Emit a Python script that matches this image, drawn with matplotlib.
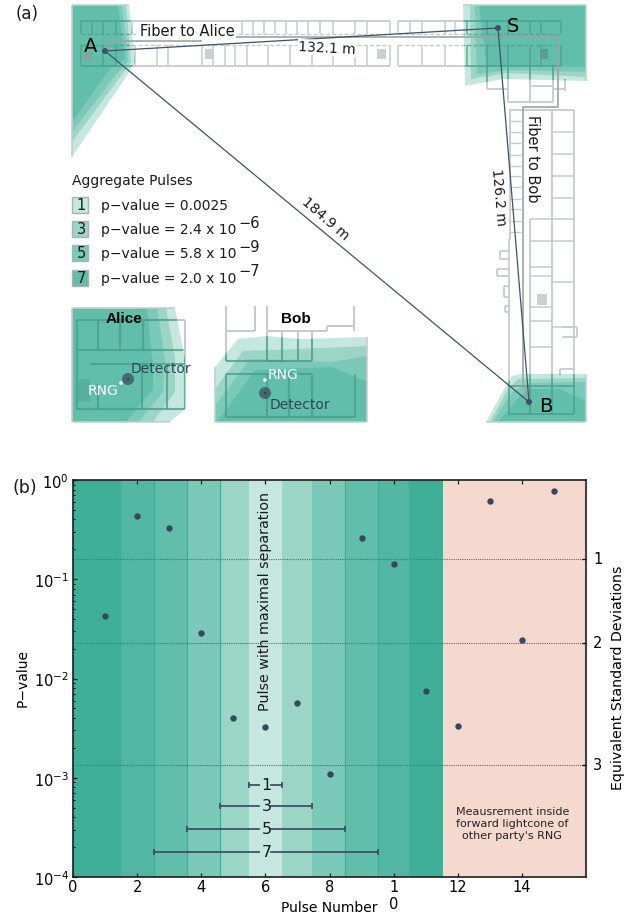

import numpy as np
import matplotlib
matplotlib.use("Agg")
import matplotlib.pyplot as plt
from matplotlib.patches import Polygon, Rectangle, Circle
from matplotlib.transforms import ScaledTranslation

W, H = 642, 920
plt.rcParams['font.family'] = ['DejaVu Sans']
plt.rcParams['mathtext.fontset'] = 'dejavusans'

# ---- data for panel (b)
pulse = [1, 2, 3, 4, 5, 6, 7, 8, 9, 10, 11, 12, 13, 14, 15]
pvals = [0.0423, 0.436, 0.325, 0.029, 0.0040, 0.00325, 0.00564, 0.0011,
         0.2575, 0.142, 0.00745, 0.0033, 0.614, 0.0246, 0.78]
band_edges = [0, 1.46, 2.52, 3.55, 4.6, 5.5, 6.53, 7.44, 8.48, 9.51, 10.47, 11.53]
band_colors = ['#3FAF97', '#52B6A2', '#61BEAB', '#7BC9B8', '#9AD5C6', '#C5E7E0',
               '#9AD5C6', '#7BC9B8', '#61BEAB', '#52B6A2', '#3FAF97']
sigma_p = [0.1587, 0.02275, 0.00135]
sigma_labels = ['1', '2', '3']
agg_labels = ['1', '3', '5', '7']
agg_lo = [5.5, 4.6, 3.55, 2.52]
agg_hi = [6.53, 7.44, 8.48, 9.51]
agg_y = [8.5e-4, 5.2e-4, 3.05e-4, 1.79e-4]

# ---- data for panel (a), in pixels of the picture
A_pt = (105, 52); S_pt = (498, 29); B_pt = (529, 403)
legend_labels = ['1', '3', '5', '7']
legend_text = ['p\u2212value = 0.0025', 'p\u2212value = 2.4 x 10', 'p\u2212value = 5.8 x 10', 'p\u2212value = 2.0 x 10']
legend_sup = ['', '\u22126', '\u22129', '\u22127']
legend_colors = ['#C5E7E0', '#9AD5C6', '#7BC9B8', '#61BEAB']

fig = plt.figure(figsize=(W/100, H/100), dpi=100)
bg = fig.add_axes([0, 0, 1, 1])
bg.set_xlim(0, W); bg.set_ylim(H, 0); bg.axis('off')

GREY = '#C8CBCD'
plan = []
def wall(x0, y0, x1, y1, lw=1.3, ls='-'):
    plan.append((x0, y0, x1, y1, lw, ls))
def seg(x0, y0, x1, y1, lw=1.2, c=GREY, z=3, alpha=1):
    bg.plot([x0, x1], [y0, y1], color=c, lw=lw, zorder=z, alpha=alpha, solid_capstyle='butt')

# lightcone shapes
tc = ['#C5E7E0', '#9AD5C6', '#7BC9B8', '#61BEAB']
alice = [[(72, 6), (129, 6), (135, 63), (128, 75), (72, 158)],
         [(72, 6), (126, 6), (131, 63), (120, 78), (72, 143)],
         [(72, 6), (122, 6), (128, 62), (115, 77), (72, 133)],
         [(72, 6), (118, 6), (125, 60), (110, 70), (72, 123)]]
source = [[(463, 6), (586, 6), (586, 82), (503, 80), (465, 87)],
          [(470, 6), (586, 6), (586, 78), (507, 74), (471, 80)],
          [(475, 6), (586, 6), (586, 73), (510, 71), (477, 75)],
          [(479, 6), (586, 6), (586, 68), (520, 67), (487, 68)]]
bob = [[(486, 423), (503, 392), (512, 377), (520, 375), (586, 375), (586, 423)],
       [(490, 423), (508, 390), (518, 380), (586, 379), (586, 423)],
       [(493, 423), (512, 393), (530, 384), (586, 383), (586, 423)],
       [(498, 423), (520, 397), (530, 390), (560, 390), (586, 402), (586, 423)]]
alice_in = [[(72, 309), (175, 309), (185, 360), (185, 410), (170, 423), (72, 423)],
            [(72, 309), (166, 309), (175, 360), (175, 393), (153, 423), (72, 423)],
            [(72, 309), (157, 309), (165, 360), (163, 393), (138, 423), (72, 423)],
            [(72, 309), (147, 309), (153, 367), (153, 390), (126, 423), (72, 423)]]
bob_in = [[(215, 423), (215, 368), (238, 340), (267, 337), (300, 340), (367, 338), (367, 423)],
          [(215, 423), (215, 390), (243, 352), (300, 350), (367, 347), (367, 423)],
          [(215, 423), (215, 407), (250, 360), (333, 363), (367, 357), (367, 423)],
          [(217, 423), (255, 371), (332, 368), (367, 383), (367, 423)]]
all_shapes = (alice, source, bob, alice_in, bob_in)
for shapes in all_shapes:
    for col, s in zip(tc, shapes):
        bg.add_patch(Polygon(s, closed=True, fc=col, ec='none', zorder=1))
for (x0, y0, x1, y1) in [(72, 6, 129, 6), (463, 6, 586, 6), (586, 6, 586, 82), (72, 6, 72, 158),
                         (486, 423, 586, 423), (586, 375, 586, 423),
                         (72, 309, 175, 309), (72, 309, 72, 423), (72, 423, 170, 423),
                         (215, 423, 367, 423), (215, 368, 215, 423), (367, 338, 367, 423)]:
    seg(x0, y0, x1, y1, lw=1.2, c='#C3CFCC', z=2)

# floor plan: main corridor
for h in [(81, 22, 390, 22), (398, 22, 561, 22), (81, 67, 390, 67), (398, 67, 561, 67)]:
    wall(*h)
for h in [(113, 35, 390, 35), (398, 35, 561, 35), (113, 46, 390, 46), (398, 46, 561, 46), (81, 35, 113, 35), (81, 46, 113, 46)]:
    wall(*h, lw=1.0, ls=(0, (3, 1.5)))
top_x = [81, 92, 103, 116, 132, 143, 154, 165, 176, 187, 198, 209, 220, 231, 242, 253, 264, 275, 286,
         297, 308, 320, 333, 355, 367, 390, 398, 410, 422, 445, 455, 467, 487, 508, 530, 541, 561]
low_x = [81, 103, 116, 135, 157, 168, 202, 213, 225, 235, 247, 268, 290, 312, 333, 355, 367, 390,
         398, 422, 445, 467, 487, 508, 530, 541, 561]
for x in top_x:
    wall(x, 22, x, 35, lw=1.1)
for x in low_x:
    wall(x, 46, x, 67, lw=1.1)
for sq, col in [((205, 50), '#CDD0D2'), ((377, 50), '#CDD0D2'), ((83, 53), '#7FA99F')]:
    bg.add_patch(Rectangle(sq, 9, 10, fc=col, ec='none', zorder=3))
bg.add_patch(Rectangle((540, 50), 8, 10, fc='#5E9C8E', ec='none', zorder=3))

# fibre run
fib = '#9DA3A5'
bg.plot([105, 107, 112, 201, 201, 558, 558, 523, 523, 528],
        [52, 45, 42, 42, 38, 38, 108, 108, 383, 400], color=fib, lw=1.2, zorder=3)

# building south of the source
for h in [(487, 90, 508, 90), (508, 103, 553, 103), (530, 87, 553, 87), (553, 90, 565, 90)]:
    wall(*h)
for v in [(487, 67, 487, 90), (508, 67, 508, 103), (530, 67, 530, 102), (553, 67, 553, 103), (565, 80, 565, 92)]:
    wall(*v)
# east wing
for v in [(510, 111, 510, 240), (509, 240, 509, 415), (552, 111, 552, 415), (574, 111, 574, 415), (530, 220, 530, 415)]:
    wall(*v)
wall(509, 111, 574, 111)
for y in [133, 155, 177, 199, 283, 328]:
    wall(552, y, 574, y, lw=1.1)
for y in [122, 133, 144, 156, 167, 177, 188, 200, 210, 222, 233]:
    wall(510, y, 521, y, lw=1.0)
for y in [220, 242, 268, 277, 308, 322, 348]:
    wall(530, y, 552, y, lw=1.1)
for y in [220, 242]:
    wall(552, y, 574, y, lw=1.1)
for r in [(500, 252, 509, 252), (500, 260, 509, 260), (500, 252, 500, 260),
          (497, 270, 509, 270), (497, 277, 509, 277), (497, 270, 497, 277),
          (504, 287, 509, 287), (504, 298, 509, 298), (504, 287, 504, 298),
          (505, 307, 509, 307), (505, 313, 509, 313), (505, 307, 505, 313),
          (562, 328, 577, 328), (577, 328, 577, 338), (562, 338, 577, 338),
          (560, 370, 574, 370), (560, 370, 560, 376), (509, 387, 574, 387), (509, 415, 574, 415)]:
    wall(*r)
bg.add_patch(Rectangle((537, 295), 10, 11, fc='#CDD0D2', ec='none', zorder=3))

# inset floor plans
for h in [(76, 321, 185, 321), (76, 351, 185, 351), (90, 365, 185, 365), (76, 410, 185, 410)]:
    wall(*h, lw=1.5)
for v in [(77, 321, 77, 410), (98, 321, 98, 351), (120, 321, 120, 351), (143, 321, 143, 351),
          (185, 321, 185, 410), (98, 385, 98, 410), (142, 365, 142, 410), (167, 365, 167, 410)]:
    wall(*v, lw=1.5)
for v in [(226, 307, 226, 362), (255, 307, 255, 332), (267, 307, 267, 362), (354, 307, 354, 332),
          (282, 332, 282, 362), (298, 332, 298, 362), (312, 332, 312, 362),
          (226, 375, 226, 418), (267, 375, 267, 418), (289, 375, 289, 418), (312, 375, 312, 418), (355, 375, 355, 418)]:
    wall(*v, lw=1.5)
for h in [(226, 332, 255, 332), (267, 332, 327, 332), (327, 327, 354, 327), (327, 327, 327, 332),
          (226, 362, 285, 362), (267, 362, 312, 362), (226, 375, 312, 375), (226, 418, 355, 418)]:
    wall(*h, lw=1.5)
bg.add_patch(Rectangle((78, 380), 12, 23, fc='#55A894', ec='none', alpha=.6, zorder=3))

# walls: grey on white, tinted inside the lightcones
for x0, y0, x1, y1, lw, ls in plan:
    bg.plot([x0, x1], [y0, y1], color=GREY, lw=lw, ls=ls, zorder=0.5, solid_capstyle='butt')
outer = [Polygon(sh[0], closed=True, transform=bg.transData) for sh in all_shapes]
for clip in outer:
    cx0, cy0 = np.min(clip.get_xy(), axis=0); cx1, cy1 = np.max(clip.get_xy(), axis=0)
    for x0, y0, x1, y1, lw, ls in plan:
        if max(x0, x1) < cx0 or min(x0, x1) > cx1 or max(y0, y1) < cy0 or min(y0, y1) > cy1:
            continue
        ln, = bg.plot([x0, x1], [y0, y1], color='#4A9F8D', lw=lw, ls=ls, alpha=.8, zorder=1.5, solid_capstyle='butt')
        ln.set_clip_path(clip)

# distance lines
NAVY = '#3F5168'
seg(*A_pt, *S_pt, lw=0.9, c=NAVY, z=5)
seg(*S_pt, *B_pt, lw=0.9, c=NAVY, z=5)
seg(*A_pt, *B_pt, lw=0.9, c=NAVY, z=5)
for p in (A_pt, S_pt, B_pt):
    bg.add_patch(Circle(p, 3, fc='#3F5168', ec='none', zorder=6))

def t(x, y, s, fs=10, rot=0, c='#1A1A1A', ha='center', va='center', **kw):
    bg.text(x, y, s, fontsize=fs, rotation=rot, color=c, ha=ha, va=va, zorder=8,
            rotation_mode='anchor', **kw)

white = dict(fc='white', ec='none', pad=1)
t(16, 14, '(a)', 12, ha='left')
t(13, 488, '(b)', 12.5, ha='left')
t(91, 46, 'A', 14, c='black')
t(513, 27, 'S', 14, c='black')
t(546, 407, 'B', 14, c='black')
t(187, 32, 'Fiber to Alice', 10.5, bbox=white)
t(327, 49, '132.1 m', 10, rot=-3, bbox=dict(fc='white', ec='none', pad=0.5))
t(533, 159, 'Fiber to Bob', 10.5, rot=-90, bbox=dict(fc='white', ec='none', pad=0.5))
t(498, 197, '126.2 m', 10, rot=-85)
t(325, 219, '184.9 m', 10, rot=-41)
t(72, 181, 'Aggregate Pulses', 10, ha='left')
ly = [206, 230, 254, 279]
for yy, lab, col, s, sup in zip(ly, legend_labels, legend_colors, legend_text, legend_sup):
    bg.add_patch(Rectangle((72, yy-8), 16, 16, fc=col, ec='#A9B3B0', lw=1, zorder=4))
    t(81, yy, lab, 10.5)
    t(101, yy, s, 10, ha='left')
    if sup:
        t(238, yy-7, sup, 10.5, ha='left')
t(124, 319, 'Alice', 11, family='Liberation Sans', weight='bold', c='black')
t(296, 319, 'Bob', 11, family='Liberation Sans', weight='bold', c='black')
t(161, 369, 'Detector', 10, c='#2F4658')
t(103, 391, 'RNG', 10, c='white')
t(283, 375, 'RNG', 10, c='white')
t(300, 405, 'Detector', 10, c='#2F4658')
for cx, cy in [(128, 380), (265, 394)]:
    bg.add_patch(Circle((cx, cy), 6, fc='#3E5B66', ec='none', alpha=.85, zorder=6))
    bg.add_patch(Circle((cx, cy), .8, fc='#10202A', ec='none', zorder=7))
for cx, cy in [(121, 384), (265, 381)]:
    bg.add_patch(Circle((cx, cy), 1.8, fc='white', ec='none', zorder=7))

# ---- panel (b)
ax = fig.add_axes([73/W, 1-878/H, (586-73)/W, (878-481)/H])
ax.set_xlim(0, 16); ax.set_ylim(1e-4, 1); ax.set_yscale('log')
for i, col in enumerate(band_colors):
    ax.axvspan(band_edges[i], band_edges[i+1], color=col, lw=0, zorder=0)
ax.axvspan(band_edges[-1], 16, color='#F5D9CE', lw=0, zorder=0)
for e in [1.46, 2.52, 3.55, 4.6, 8.48, 9.51]:
    ax.axvline(e, color='#3FAF97', lw=0.9, zorder=1)
for p in sigma_p:
    ax.axhline(p, color='#55706B', lw=0.8, ls=(0, (1, 1)), zorder=2)
ax.plot(pulse, pvals, 'o', color='#34495E', ms=4.6, mew=0, zorder=5)
for lab, lo, hi, y in zip(agg_labels, agg_lo, agg_hi, agg_y):
    ax.plot([lo, 5.79], [y, y], color='#3F5168', lw=1.3, zorder=4)
    ax.plot([6.17, hi], [y, y], color='#3F5168', lw=1.3, zorder=4)
    ax.plot([lo, hi], [y, y], ls='none', color='#3F5168', zorder=4, marker='|', ms=4, mew=1.3)
    ax.text(6.03, y, lab, fontsize=11.5, ha='center', va='center', color='#1A1A1A', zorder=6)
ax.text(6.0, 0.77, 'Pulse with maximal separation', rotation=90, fontsize=10.3, ha='center', va='top', color='#1A1A1A', zorder=6)
ax.text(13.7, 3.5e-4, "Meausrement inside\nforward lightcone of\nother party's RNG", fontsize=8, ha='center', va='center', color='#222222', linespacing=1.2)
ax.set_xticks([0, 2, 4, 6, 8, 10, 12, 14])
ax.set_xticklabels(['0', '2', '4', '6', '8', '1\n0', '12', '14'], fontsize=10.5)
ax.set_xlabel('Pulse Number', fontsize=10)
ax.xaxis.set_label_coords(0.5, -0.076, transform=ax.transAxes)
ax.xaxis.label.set_va('center')
ax.set_ylabel('P\u2212value', fontsize=10)
ax.yaxis.set_label_coords(-0.0975, 0.505)
ax.yaxis.label.set_va('center')
ax.set_yticks([1e-4, 1e-3, 1e-2, 1e-1, 1])
ax.set_yticklabels(['10$^{-4}$', '10$^{-3}$', '10$^{-2}$', '10$^{-1}$', '10$^{0}$'], fontsize=10.5)
ax.tick_params(axis='both', which='major', direction='in', length=3, width=0.9, top=True, right=False, pad=3, color='#1A1A1A')
ax.tick_params(axis='x', pad=1.5)
ax.tick_params(axis='y', which='minor', direction='in', length=1.5, width=0.7, right=False)
for s in ax.spines.values():
    s.set_linewidth(1.2); s.set_color('#1E1E1E')
ax.spines['right'].set_color('#444444'); ax.spines['right'].set_linewidth(1.5)
ax.grid(False)
ax2 = ax.twinx()
ax2.set_yscale('log'); ax2.set_ylim(ax.get_ylim())
ax2.set_yticks(sigma_p); ax2.set_yticklabels(sigma_labels, fontsize=10.5)
ax2.minorticks_off()
ax2.tick_params(axis='y', direction='in', length=3, width=0.9, pad=5)
for lb in ax2.get_yticklabels():
    lb.set_transform(lb.get_transform() + ScaledTranslation(0, 2/100, fig.dpi_scale_trans))
ax2.set_ylabel('Equivalent Standard Deviations', fontsize=10.2)
ax2.yaxis.set_label_coords(1.062, 0.505)
ax2.yaxis.label.set_va('center')
for s in ax2.spines.values():
    s.set_visible(False)

fig.savefig('out.png', dpi=100)
